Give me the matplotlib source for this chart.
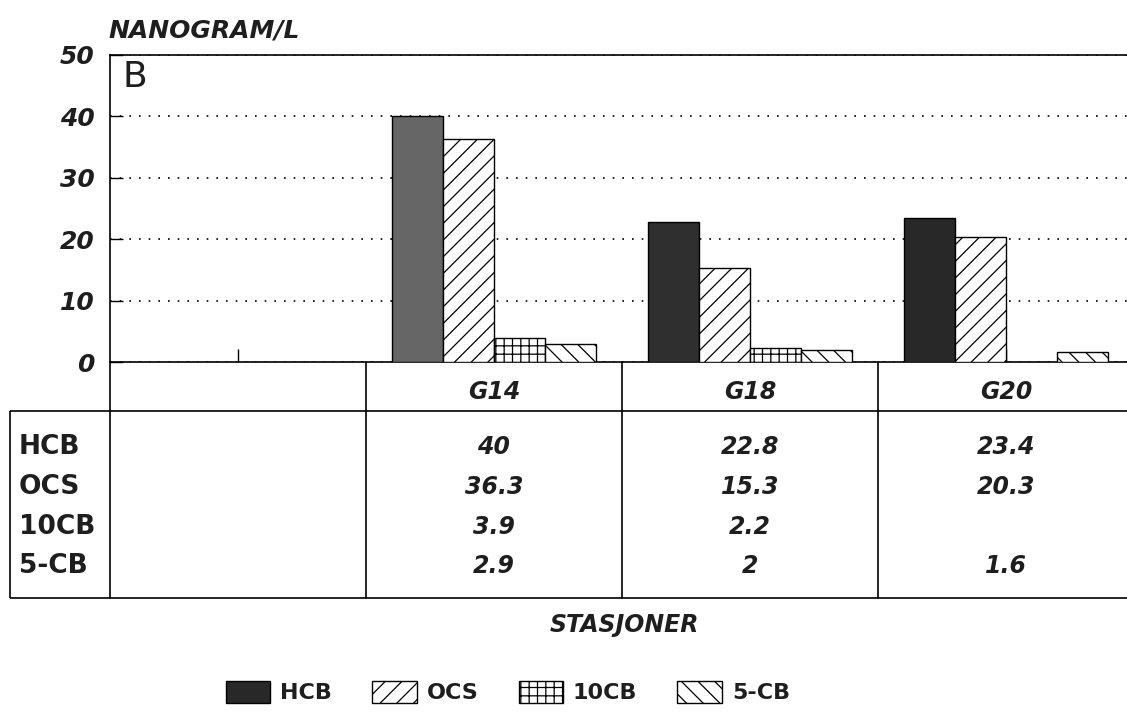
import numpy as np
import matplotlib.pyplot as plt
from matplotlib.patches import Patch

plt.rcParams["font.family"] = ["DejaVu Sans"]
plt.rcParams["hatch.linewidth"] = 0.9
plt.rcParams["hatch.color"] = "black"

# data
stations = ["", "G14", "G18", "G20"]
compounds = ["HCB", "OCS", "10CB", "5-CB"]
hcb = [np.nan, 40, 22.8, 23.4]
ocs = [np.nan, 36.3, 15.3, 20.3]
cb10 = [np.nan, 3.9, 2.2, np.nan]
cb5 = [np.nan, 2.9, 2, 1.6]
yticks = [0, 10, 20, 30, 40, 50]

series = [hcb, ocs, cb10, cb5]
hatches = ["", "//", "++", "\\\\"]
hcb_faces = ["#666666", "#666666", "#2f2f2f", "#282828"]
txt = "#1e1e1e"
bi = dict(fontweight="bold", fontstyle="italic", color=txt)

W, H = 1127, 718
fig = plt.figure(figsize=(W / 100, H / 100), dpi=100)

# main bar axes (right border runs past the edge of the page, as in the scan)
ax = fig.add_axes([110 / W, (H - 362) / H, 1024 / W, 307 / H])
x = np.arange(len(stations))
width = 0.2
offsets = [-0.3, -0.1, 0.1, 0.3]

for i, vals in enumerate(series):
    face = hcb_faces if i == 0 else "white"
    ax.bar(x + offsets[i], vals, width, color=face, edgecolor="black",
           linewidth=1.0, hatch=hatches[i], zorder=3)

ax.set_xlim(-0.5, 3.5)
ax.set_ylim(0, 50)
ax.set_yticks(yticks)
ax.set_yticklabels([str(t) for t in yticks], fontsize=18, **bi)
ax.set_xticks(x)
ax.set_xticklabels([])
ax.tick_params(axis="x", direction="in", length=9.5, width=1.0)
ax.tick_params(axis="y", direction="in", length=9, width=1.0, pad=11)
ax.yaxis.grid(True, linestyle=(0, (1, 4.8)), color="black", linewidth=1.2)
ax.set_axisbelow(True)
for sp in ax.spines.values():
    sp.set_linewidth(1.2)

ax.text(0.012, 0.985, "B", transform=ax.transAxes, fontsize=26,
        va="top", ha="left", color=txt)
fig.text(108 / W, (H - 30) / H, "NANOGRAM/L", fontsize=18, ha="left",
         va="center", **bi)

# data table under the plot
tab = fig.add_axes([10 / W, (H - 598) / H, 1124 / W, 236 / H])
xleft = -0.5 - 100 / 256
tab.set_xlim(xleft, 3.5)
tab.set_ylim(0, 1)
tab.axis("off")
head_y = 0.792
tab.vlines([-0.5, 0.5, 1.5, 2.5], 0, 1, color="black", lw=1.2, clip_on=False)
tab.vlines([xleft], 0, head_y, color="black", lw=1.2, clip_on=False)
tab.hlines([0, head_y], xleft, 3.5, color="black", lw=1.2, clip_on=False)

for xi, name in zip(x, stations):
    tab.text(xi, 0.873, name, ha="center", va="center", fontsize=17, **bi)

row_y = [0.640, 0.470, 0.301, 0.136]
for yy, name, vals in zip(row_y, compounds, series):
    tab.text(xleft + 0.035, yy, name, ha="left", va="center", fontsize=19,
             fontweight="bold", color=txt)
    for xi, v in zip(x, vals):
        if np.isnan(v):
            continue
        tab.text(xi, yy, f"{v:g}", ha="center", va="center", fontsize=17, **bi)

fig.text(624 / W, (H - 625) / H, "STASJONER", ha="center", va="center",
         fontsize=17, **bi)

handles = [Patch(facecolor="#282828", edgecolor="black", lw=1.0)]
for h in hatches[1:]:
    handles.append(Patch(facecolor="white", edgecolor="black", lw=1.0, hatch=h))
fig.legend(handles, compounds, loc="center", bbox_to_anchor=(508 / W, 26 / H),
           ncol=4, frameon=False, prop={"weight": "bold", "size": 16},
           handlelength=2.0, handleheight=1.15, handletextpad=0.45,
           columnspacing=1.8, labelcolor=txt)

fig.savefig("out.png", dpi=100)
